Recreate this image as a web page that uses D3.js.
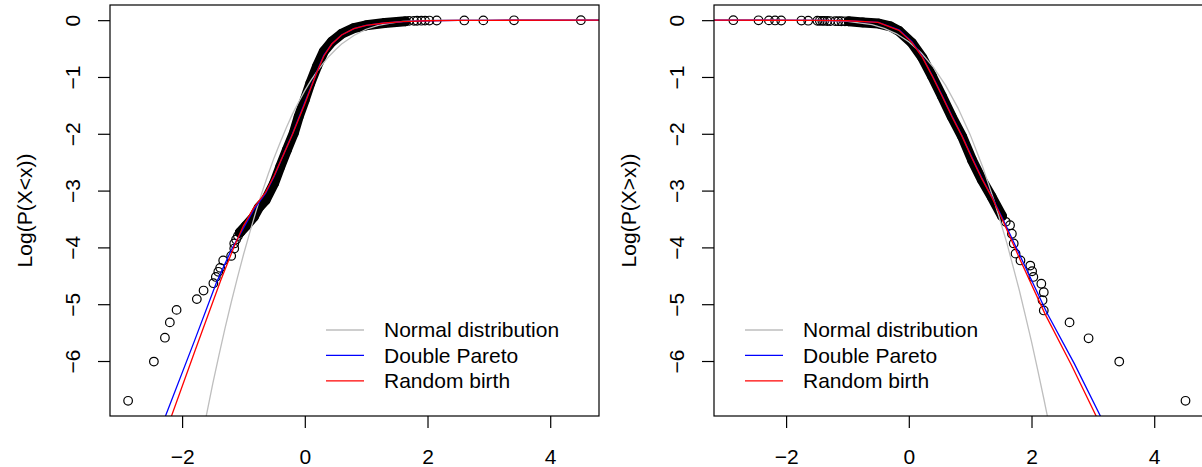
<!DOCTYPE html>
<html>
<head>
<meta charset="utf-8">
<script src="https://cdn.jsdelivr.net/npm/d3@7"></script>
<style>
  body { margin: 0; background: #fff; }
  text { font-family: "Liberation Sans", Arial, sans-serif; fill: #000; }
</style>
</head>
<body>
<div id="chart"></div>
<script>
// tick labels and legend
const xTicks = [-2, 0, 2, 4];
const yTicks = [-6, -5, -4, -3, -2, -1, 0];
const legendLabels = ['Normal distribution', 'Double Pareto', 'Random birth'];
const legendColors = ['#bebebe', '#0000ff', '#ff0000'];

// left panel, log P(X<x): observed points
const lowTailX = [-2.88, -2.46, -2.28, -2.20, -2.09, -1.76, -1.65, -1.49, -1.45, -1.41, -1.38, -1.33, -1.20, -1.15, -1.15, -1.12, -1.09, -1.06];
const lowTailY = [-6.70, -6.01, -5.59, -5.32, -5.10, -4.91, -4.76, -4.63, -4.52, -4.43, -4.36, -4.23, -4.15, -4.02, -3.93, -3.86, -3.80, -3.74];
const lowBandX = [-1.06, -0.96, -0.83, -0.75, -0.64, -0.50, -0.40, -0.29, -0.18, -0.10, 0.00, 0.09, 0.20, 0.31, 0.44, 0.60, 0.80, 1.00, 1.30, 1.64];
const lowBandY = [-3.74, -3.62, -3.46, -3.30, -3.17, -2.87, -2.58, -2.28, -1.99, -1.70, -1.40, -1.11, -0.81, -0.55, -0.38, -0.24, -0.14, -0.09, -0.05, -0.02];
const lowTopX = [1.70, 1.78, 1.83, 1.90, 1.96, 2.03, 2.15, 2.60, 2.91, 3.41, 4.50];
const lowTopY = [-0.012, -0.011, -0.010, -0.009, -0.008, -0.007, -0.006, -0.005, -0.004, -0.002, -0.001];

// left panel: fitted curves
const normLowX = [-1.62, -1.5, -1.4, -1.3, -1.2, -1.1, -1.0, -0.9, -0.8, -0.7, -0.6, -0.5, -0.4, -0.3, -0.2, -0.1, 0, 0.1, 0.2, 0.3, 0.4, 0.5, 0.6, 0.8, 1.0, 1.2, 1.4, 1.6, 2.0, 2.5, 4.8];
const normLowY = [-7.04, -6.40, -5.90, -5.42, -4.97, -4.54, -4.13, -3.75, -3.38, -3.04, -2.72, -2.42, -2.15, -1.89, -1.65, -1.44, -1.24, -1.06, -0.90, -0.76, -0.63, -0.52, -0.42, -0.27, -0.16, -0.09, -0.05, -0.02, -0.004, 0, 0];
const paretoLowX = [-2.30, -1.8, -1.44, -1.2, -1.0, -0.83, -0.64, -0.50, -0.37, -0.2, 0, 0.1, 0.2, 0.31, 0.44, 0.6, 0.8, 1.0, 1.3, 1.6, 2.0, 2.5, 3.0, 4.8];
const paretoLowY = [-7.05, -5.65, -4.62, -4.05, -3.66, -3.33, -3.05, -2.75, -2.42, -2.00, -1.45, -1.18, -0.90, -0.62, -0.42, -0.26, -0.15, -0.09, -0.05, -0.025, -0.01, -0.004, -0.002, 0];
const randomLowX = [-2.20, -1.8, -1.37, -1.15, -1.0, -0.83, -0.64, -0.50, -0.37, -0.2, 0, 0.1, 0.2, 0.31, 0.44, 0.6, 0.8, 1.0, 1.3, 1.6, 2.0, 2.5, 3.0, 4.8];
const randomLowY = [-7.05, -5.85, -4.58, -3.98, -3.62, -3.30, -3.03, -2.74, -2.42, -2.01, -1.47, -1.19, -0.91, -0.63, -0.42, -0.26, -0.15, -0.09, -0.05, -0.025, -0.01, -0.004, -0.002, 0];

// right panel, log P(X>x): observed points
const hiFlatX = [-2.86, -2.45, -2.28, -2.18, -2.08, -1.75, -1.64, -1.49, -1.45, -1.41, -1.38, -1.33, -1.28, -1.20, -1.15, -1.10, -1.04];
const hiFlatY = [-0.001, -0.002, -0.004, -0.005, -0.006, -0.007, -0.009, -0.010, -0.011, -0.012, -0.013, -0.015, -0.016, -0.017, -0.018, -0.019, -0.020];
const hiBandX = [-0.98, -0.75, -0.49, -0.30, -0.16, 0.05, 0.22, 0.38, 0.54, 0.70, 0.87, 1.03, 1.19, 1.35, 1.52];
const hiBandY = [-0.02, -0.04, -0.06, -0.11, -0.19, -0.40, -0.66, -0.99, -1.34, -1.70, -2.05, -2.46, -2.81, -3.11, -3.45];
const hiTailX = [1.58, 1.65, 1.68, 1.71, 1.74, 1.82, 1.98, 2.01, 2.03, 2.16, 2.20, 2.18, 2.20, 2.62, 2.93, 3.43, 4.51];
const hiTailY = [-3.55, -3.61, -3.76, -3.93, -4.11, -4.23, -4.32, -4.42, -4.52, -4.64, -4.79, -4.93, -5.11, -5.32, -5.60, -6.01, -6.70];

// right panel: fitted curves
const normHiX = [-3.2, -1.5, -1.0, -0.6, -0.4, -0.2, 0, 0.2, 0.4, 0.6, 0.8, 1.0, 1.2, 1.4, 1.6, 1.8, 1.9, 2.0, 2.1, 2.2, 2.27];
const normHiY = [0, -0.002, -0.020, -0.079, -0.143, -0.240, -0.381, -0.574, -0.828, -1.149, -1.543, -2.015, -2.57, -3.21, -3.93, -4.75, -5.20, -5.66, -6.15, -6.66, -7.03];
const paretoHiX = [-3.2, -1.5, -1.0, -0.5, -0.16, 0.05, 0.22, 0.38, 0.54, 0.70, 0.87, 1.03, 1.19, 1.35, 1.54, 1.85, 2.25, 2.70, 3.16];
const paretoHiY = [0, -0.003, -0.01, -0.04, -0.17, -0.38, -0.64, -0.97, -1.32, -1.68, -2.04, -2.42, -2.78, -3.10, -3.52, -4.23, -5.15, -6.05, -7.05];
const randomHiX = [-3.2, -1.5, -1.0, -0.5, -0.16, 0.05, 0.22, 0.38, 0.54, 0.70, 0.87, 1.03, 1.19, 1.35, 1.52, 1.82, 2.22, 2.65, 3.09];
const randomHiY = [0, -0.003, -0.01, -0.04, -0.18, -0.39, -0.65, -0.98, -1.33, -1.69, -2.05, -2.43, -2.79, -3.11, -3.50, -4.23, -5.17, -6.07, -7.05];

const width = 1202;
const height = 467;
const box = { left: 110, top: 5, width: 489, height: 411 };
const fontSize = 21;

const svg = d3.select('#chart').append('svg')
    .attr('width', width)
    .attr('height', height)
    .style('background', '#fff');

const zip = (xs, ys) => xs.map((x, i) => [x, ys[i]]);

// R-style 4% padding around the data range
const allX = lowTailX.concat(lowBandX, lowTopX);
const allY = lowTailY.concat(lowBandY, lowTopY);
const xPad = (d3.max(allX) - d3.min(allX)) * 0.04;
const yPad = (d3.max(allY) - d3.min(allY)) * 0.04;

function drawPanel(offset, id, yLabel, legendX, observed, band, curves) {
    const g = svg.append('g').attr('transform', `translate(${offset},0)`);

    const x = d3.scaleLinear()
        .domain([d3.min(allX) - xPad, d3.max(allX) + xPad])
        .range([box.left, box.left + box.width]);
    const y = d3.scaleLinear()
        .domain([d3.min(allY) - yPad, d3.max(allY) + yPad])
        .range([box.top + box.height, box.top]);

    g.append('clipPath').attr('id', id)
        .append('rect')
        .attr('x', box.left).attr('y', box.top)
        .attr('width', box.width).attr('height', box.height);

    const plot = g.append('g').attr('clip-path', `url(#${id})`);
    const line = d3.line().x(d => x(d[0])).y(d => y(d[1]));

    // dense part of the sample: thick stroke under the circles
    plot.append('path')
        .datum(band)
        .attr('d', line)
        .attr('fill', 'none')
        .attr('stroke', '#000')
        .attr('stroke-width', 10)
        .attr('stroke-linejoin', 'round')
        .attr('stroke-linecap', 'round');

    plot.selectAll('.pt')
        .data(observed.concat(band))
        .enter().append('circle')
        .attr('class', 'pt')
        .attr('cx', d => x(d[0]))
        .attr('cy', d => y(d[1]))
        .attr('r', 4.3)
        .attr('fill', 'none')
        .attr('stroke', '#000')
        .attr('stroke-width', 1.2);

    curves.forEach((c, i) => {
        plot.append('path')
            .datum(c)
            .attr('d', line)
            .attr('fill', 'none')
            .attr('stroke', legendColors[i])
            .attr('stroke-width', 1.3);
    });

    // frame
    g.append('rect')
        .attr('x', box.left).attr('y', box.top)
        .attr('width', box.width).attr('height', box.height)
        .attr('fill', 'none')
        .attr('stroke', '#000')
        .attr('stroke-width', 1.2);

    // x axis
    const xAxis = g.append('g')
        .attr('transform', `translate(0,${box.top + box.height})`)
        .call(d3.axisBottom(x).tickValues(xTicks).tickSize(12).tickPadding(21).tickFormat(d3.format('d')));
    xAxis.select('.domain').remove();
    xAxis.selectAll('line').attr('stroke', '#000').attr('stroke-width', 1.2);
    xAxis.selectAll('text').attr('font-size', fontSize).style('font-family', '"Liberation Sans", Arial, sans-serif');

    // y axis with rotated labels
    const yAxis = g.append('g')
        .attr('transform', `translate(${box.left},0)`)
        .call(d3.axisLeft(y).tickValues(yTicks).tickSize(12).tickFormat(d3.format('d')));
    yAxis.select('.domain').remove();
    yAxis.selectAll('line').attr('stroke', '#000').attr('stroke-width', 1.2);
    yAxis.selectAll('text')
        .attr('x', null)
        .attr('dy', '0.35em')
        .attr('text-anchor', 'middle')
        .attr('transform', 'translate(-37,0) rotate(-90)')
        .attr('font-size', fontSize)
        .style('font-family', '"Liberation Sans", Arial, sans-serif');

    g.append('text')
        .attr('transform', `translate(25,${box.top + box.height / 2}) rotate(-90)`)
        .attr('text-anchor', 'middle')
        .attr('dy', '0.35em')
        .attr('font-size', fontSize)
        .text(yLabel);

    // legend
    const legend = g.selectAll('.legend')
        .data(legendLabels)
        .enter().append('g')
        .attr('class', 'legend')
        .attr('transform', (d, i) => `translate(${legendX},${330 + i * 25.4})`);
    legend.append('line')
        .attr('x1', 0).attr('x2', 38)
        .attr('stroke', (d, i) => legendColors[i])
        .attr('stroke-width', 1.3);
    legend.append('text')
        .attr('x', 58)
        .attr('dy', '0.35em')
        .attr('font-size', fontSize)
        .text(d => d);
}

drawPanel(0, 'clipLow', 'Log(P(X<x))', 326,
    zip(lowTailX, lowTailY).concat(zip(lowTopX, lowTopY)),
    zip(lowBandX, lowBandY),
    [zip(normLowX, normLowY), zip(paretoLowX, paretoLowY), zip(randomLowX, randomLowY)]);

drawPanel(604, 'clipHigh', 'Log(P(X>x))', 141,
    zip(hiFlatX, hiFlatY).concat(zip(hiTailX, hiTailY)),
    zip(hiBandX, hiBandY),
    [zip(normHiX, normHiY), zip(paretoHiX, paretoHiY), zip(randomHiX, randomHiY)]);
</script>
</body>
</html>
